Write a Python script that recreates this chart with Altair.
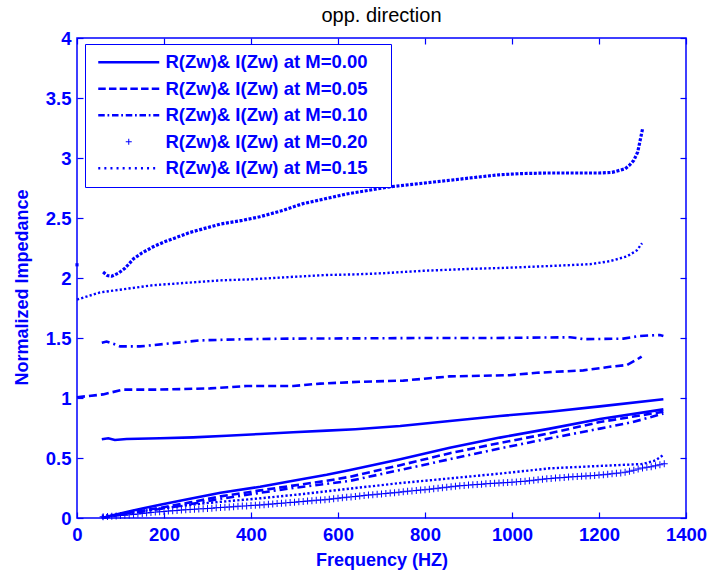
import altair as alt
import pandas as pd

BLUE = "#0000ff"
FONT = "Liberation Sans"

# ---------------- data ----------------
# M=0.00 (solid)
r000_f = [57, 72, 87, 114, 191, 267, 344, 421, 497, 574, 640, 743, 857, 972, 1087, 1202, 1348]
r000_v = [0.656, 0.664, 0.650, 0.658, 0.664, 0.672, 0.686, 0.700, 0.714, 0.728, 0.740, 0.767, 0.808, 0.850, 0.886, 0.930, 0.990]
i000_f = [57, 80, 114, 150, 191, 260, 330, 421, 497, 574, 628, 743, 857, 972, 1087, 1202, 1348]
i000_v = [0.0, 0.02, 0.05, 0.08, 0.11, 0.16, 0.21, 0.26, 0.31, 0.36, 0.40, 0.49, 0.585, 0.67, 0.745, 0.825, 0.905]

# M=0.05 (dashed)
r005_f = [0, 60, 106, 189, 306, 390, 497, 559, 651, 750, 857, 995, 1057, 1164, 1225, 1264, 1287, 1298]
r005_v = [1.006, 1.03, 1.07, 1.07, 1.08, 1.10, 1.10, 1.12, 1.135, 1.145, 1.18, 1.19, 1.21, 1.23, 1.26, 1.275, 1.32, 1.345]
i005_f = [57, 114, 191, 260, 330, 421, 497, 574, 628, 743, 857, 972, 1087, 1202, 1348]
i005_v = [0.0, 0.04, 0.085, 0.13, 0.18, 0.23, 0.27, 0.31, 0.344, 0.44, 0.54, 0.625, 0.706, 0.80, 0.886]

# M=0.10 (dash-dot)
r010_f = [57, 68, 85, 99, 145, 214, 283, 382, 500, 651, 800, 950, 1133, 1150, 1164, 1256, 1294, 1340, 1348]
r010_v = [1.46, 1.47, 1.45, 1.43, 1.43, 1.455, 1.48, 1.49, 1.495, 1.497, 1.50, 1.50, 1.506, 1.50, 1.49, 1.495, 1.517, 1.525, 1.517]
i010_f = [57, 114, 191, 260, 330, 421, 497, 574, 628, 743, 857, 972, 1087, 1202, 1278, 1348]
i010_v = [0.0, 0.035, 0.075, 0.115, 0.16, 0.21, 0.25, 0.285, 0.31, 0.40, 0.49, 0.58, 0.664, 0.745, 0.80, 0.87]

# M=0.15 (dotted)
r015_f = [0, 53, 114, 175, 252, 329, 405, 497, 574, 640, 704, 796, 896, 988, 1087, 1179, 1225, 1264, 1287, 1299]
r015_v = [1.82, 1.88, 1.91, 1.94, 1.96, 1.98, 1.99, 2.01, 2.025, 2.03, 2.04, 2.06, 2.075, 2.085, 2.10, 2.115, 2.14, 2.18, 2.23, 2.29]
i015_f = [57, 100, 191, 300, 421, 520, 628, 740, 857, 972, 1087, 1180, 1240, 1300, 1330, 1348]
i015_v = [0.02, 0.03, 0.08, 0.125, 0.164, 0.20, 0.245, 0.29, 0.33, 0.37, 0.414, 0.43, 0.44, 0.45, 0.48, 0.525]

# M=0.20 (upper heavy dotted curve and "+" markers)
r020_f = [60, 70, 80, 95, 110, 130, 150, 175, 200, 230, 260, 290, 330, 380, 420, 470, 520, 570, 620, 670,
          720, 770, 820, 870, 920, 970, 1020, 1080, 1140, 1200, 1230, 1250, 1260, 1270, 1280, 1289, 1300]
r020_v = [2.05, 2.02, 2.015, 2.04, 2.08, 2.16, 2.21, 2.26, 2.30, 2.34, 2.38, 2.41, 2.45, 2.48, 2.51, 2.56, 2.62, 2.66, 2.70, 2.73,
          2.76, 2.78, 2.80, 2.82, 2.84, 2.86, 2.87, 2.875, 2.875, 2.875, 2.88, 2.90, 2.91, 2.94, 2.98, 3.05, 3.24]
stray_f = [0]
stray_v = [2.11]
i020_f = [60, 70, 80, 90, 100, 110, 120, 130, 140, 150,
          160, 170, 180, 190, 200, 210, 220, 230, 240, 250,
          260, 270, 280, 290, 300, 310, 320, 330, 340, 350,
          360, 370, 380, 390, 400, 410, 420, 430, 440, 450,
          460, 470, 480, 490, 500, 510, 520, 530, 540, 550,
          560, 570, 580, 590, 600, 610, 620, 630, 640, 650,
          660, 670, 680, 690, 700, 710, 720, 730, 740, 750,
          760, 770, 780, 790, 800, 810, 820, 830, 840, 850,
          860, 870, 880, 890, 900, 910, 920, 930, 940, 950,
          960, 970, 980, 990, 1000, 1010, 1020, 1030, 1040, 1050,
          1060, 1070, 1080, 1090, 1100, 1110, 1120, 1130, 1140, 1150,
          1160, 1170, 1180, 1190, 1200, 1210, 1220, 1230, 1240, 1250,
          1260, 1270, 1280, 1290, 1300, 1310, 1320, 1330, 1340, 1350]
i020_v = [0.010, 0.012, 0.014, 0.017, 0.020, 0.023, 0.026, 0.030, 0.034, 0.038,
          0.041, 0.045, 0.049, 0.052, 0.055, 0.058, 0.060, 0.063, 0.066, 0.068,
          0.071, 0.073, 0.076, 0.078, 0.080, 0.082, 0.085, 0.087, 0.089, 0.092,
          0.094, 0.097, 0.099, 0.101, 0.104, 0.106, 0.108, 0.111, 0.114, 0.117,
          0.120, 0.123, 0.126, 0.129, 0.132, 0.135, 0.138, 0.141, 0.144, 0.147,
          0.150, 0.153, 0.157, 0.160, 0.164, 0.168, 0.172, 0.176, 0.180, 0.184,
          0.187, 0.191, 0.194, 0.198, 0.201, 0.204, 0.208, 0.211, 0.215, 0.219,
          0.222, 0.226, 0.229, 0.233, 0.236, 0.240, 0.244, 0.248, 0.252, 0.256,
          0.260, 0.264, 0.268, 0.271, 0.274, 0.277, 0.279, 0.282, 0.285, 0.287,
          0.289, 0.291, 0.294, 0.296, 0.298, 0.301, 0.304, 0.307, 0.311, 0.315,
          0.319, 0.323, 0.327, 0.330, 0.333, 0.336, 0.338, 0.341, 0.343, 0.345,
          0.348, 0.350, 0.352, 0.355, 0.358, 0.361, 0.364, 0.368, 0.372, 0.376,
          0.382, 0.390, 0.398, 0.408, 0.416, 0.422, 0.428, 0.436, 0.444, 0.452]

legend_labels = ["R(Zw)& I(Zw) at M=0.00", "R(Zw)& I(Zw) at M=0.05", "R(Zw)& I(Zw) at M=0.10",
                 "R(Zw)& I(Zw) at M=0.20", "R(Zw)& I(Zw) at M=0.15"]
x_ticks = [0, 200, 400, 600, 800, 1000, 1200, 1400]
y_ticks = [0, 0.5, 1, 1.5, 2, 2.5, 3, 3.5, 4]


def frame(pairs):
    rows = []
    for name, fs, vs in pairs:
        for f, v in zip(fs, vs):
            rows.append({"freq": f, "value": v, "curve": name})
    return pd.DataFrame(rows)


# ---------------- legend symbol shapes (style only) ----------------
# an empty sub-path far to the right widens the legend frame without drawing anything
WIDEN = "M55.6,0Z"


def rects(segs, h=0.26):
    return "".join(f"M{a:.2f},{-h}H{b:.2f}V{h}H{a:.2f}Z" for a, b in segs) + WIDEN


solid_sym = rects([(-1, 11.2)])
dashed_sym = rects([(-1 + i * 2.14, -1 + i * 2.14 + 1.5) for i in range(6)])
dd = []
p = -1.0
for i in range(4):
    dd.append((p, p + 1.3)); p += 1.85
    dd.append((p, p + 0.35)); p += 0.9
dd.append((p, 11.2))
dashdot_sym = rects(dd)
dotted_sym = rects([(-1 + i * 1.22, -1 + i * 1.22 + 0.4) for i in range(10)])
plus_sym = "M4.5,-0.1H5.7V0.1H4.5ZM5.0,-0.6H5.2V0.6H5.0Z" + WIDEN
legend_shapes = [solid_sym, dashed_sym, dashdot_sym, plus_sym, dotted_sym]
PLUS_MARK = "M-1,-0.14H1V0.14H-1ZM-0.14,-1H0.14V1H-0.14Z"

# ---------------- scales & axes ----------------
xs = alt.Scale(domain=[0, 1400], nice=False, zero=False)
ys = alt.Scale(domain=[0, 4], nice=False, zero=False)

common_axis = dict(grid=False, domain=False, tickSize=6, offset=-6, tickColor=BLUE, tickWidth=1.2,
                   labelFlush=False, labelOverlap=False)

x_bottom = alt.Axis(orient="bottom", values=x_ticks, format="d", labelColor=BLUE, labelFont=FONT,
                    labelFontSize=18.5, labelFontWeight="bold", labelPadding=7,
                    title="Frequency (HZ)", titleColor=BLUE, titleFont=FONT, titleFontSize=18,
                    titleFontWeight="bold", titlePadding=8, **common_axis)
y_left = alt.Axis(orient="left", values=y_ticks, format="~g", labelColor=BLUE, labelFont=FONT,
                  labelFontSize=18.5, labelFontWeight="bold", labelPadding=6,
                  title="Normalized Impedance", titleColor=BLUE, titleFont=FONT, titleFontSize=18,
                  titleFontWeight="bold", titlePadding=14, titleY=249, **common_axis)
x_top = alt.Axis(orient="top", values=x_ticks, labels=False, title="", **common_axis)
y_right = alt.Axis(orient="right", values=y_ticks, labels=False, title="", **common_axis)


def xy(axes=False):
    return dict(x=alt.X("freq:Q", scale=xs, axis=x_bottom if axes else None),
                y=alt.Y("value:Q", scale=ys, axis=y_left if axes else None))


solid = alt.Chart(frame([("r0", r000_f, r000_v), ("i0", i000_f, i000_v)])).mark_line(
    color=BLUE, strokeWidth=2.6).encode(detail="curve:N", **xy(True))
dashed = alt.Chart(frame([("r5", r005_f, r005_v), ("i5", i005_f, i005_v)])).mark_line(
    color=BLUE, strokeWidth=2.6, strokeDash=[8, 4]).encode(detail="curve:N", **xy())
dashdot = alt.Chart(frame([("r10", r010_f, r010_v), ("i10", i010_f, i010_v)])).mark_line(
    color=BLUE, strokeWidth=2.6, strokeDash=[8, 4, 2, 4]).encode(detail="curve:N", **xy())
dotted = alt.Chart(frame([("r15", r015_f, r015_v), ("i15", i015_f, i015_v)])).mark_line(
    color=BLUE, strokeWidth=2.4, strokeDash=[2.2, 2.2]).encode(detail="curve:N", **xy())
bigdots = alt.Chart(frame([("r20", r020_f, r020_v)])).mark_line(
    color=BLUE, strokeWidth=3.2, strokeDash=[3, 1.6]).encode(**xy())
stray = alt.Chart(frame([("s", stray_f, stray_v)])).mark_square(
    color=BLUE, size=10, opacity=1).encode(
    x=alt.X("freq:Q", scale=xs, axis=x_top), y=alt.Y("value:Q", scale=ys, axis=y_right))
plus = alt.Chart(frame([("i20", i020_f, i020_v)])).mark_point(
    shape=PLUS_MARK, size=49, filled=True, color=BLUE, strokeWidth=0, opacity=1).encode(**xy())

legend_layer = alt.Chart(pd.DataFrame({"series": legend_labels})).transform_filter("false").mark_point(
    filled=True, size=100, color=BLUE, strokeWidth=0, opacity=1).encode(
    shape=alt.Shape("series:N", scale=alt.Scale(domain=legend_labels, range=legend_shapes),
                    legend=alt.Legend(orient="none", legendX=8, legendY=6, title=None,
                                      direction="vertical", labelFont=FONT, labelFontSize=18.5,
                                      labelFontWeight="bold", labelColor=BLUE, labelLimit=400,
                                      labelOffset=53,
                                      symbolSize=100, symbolStrokeWidth=0, symbolFillColor=BLUE,
                                      symbolOpacity=1, rowPadding=7.5, padding=9,
                                      strokeColor=BLUE, fillColor="white")))

chart = alt.layer(solid, dashed, dashdot, dotted, bigdots, plus, stray, legend_layer).properties(
    width=609, height=480,
    title=alt.TitleParams(text="opp. direction", font=FONT, fontSize=20, fontWeight="normal",
                          color="black", anchor="middle", offset=3),
    padding={"left": 77, "top": 38, "right": 26, "bottom": 55},
    autosize=alt.AutoSizeParams(type="none"),
    background="white",
).configure_view(stroke=BLUE, strokeWidth=1.5)

chart.save("out.html", embed_options={"renderer": "svg", "actions": False})
